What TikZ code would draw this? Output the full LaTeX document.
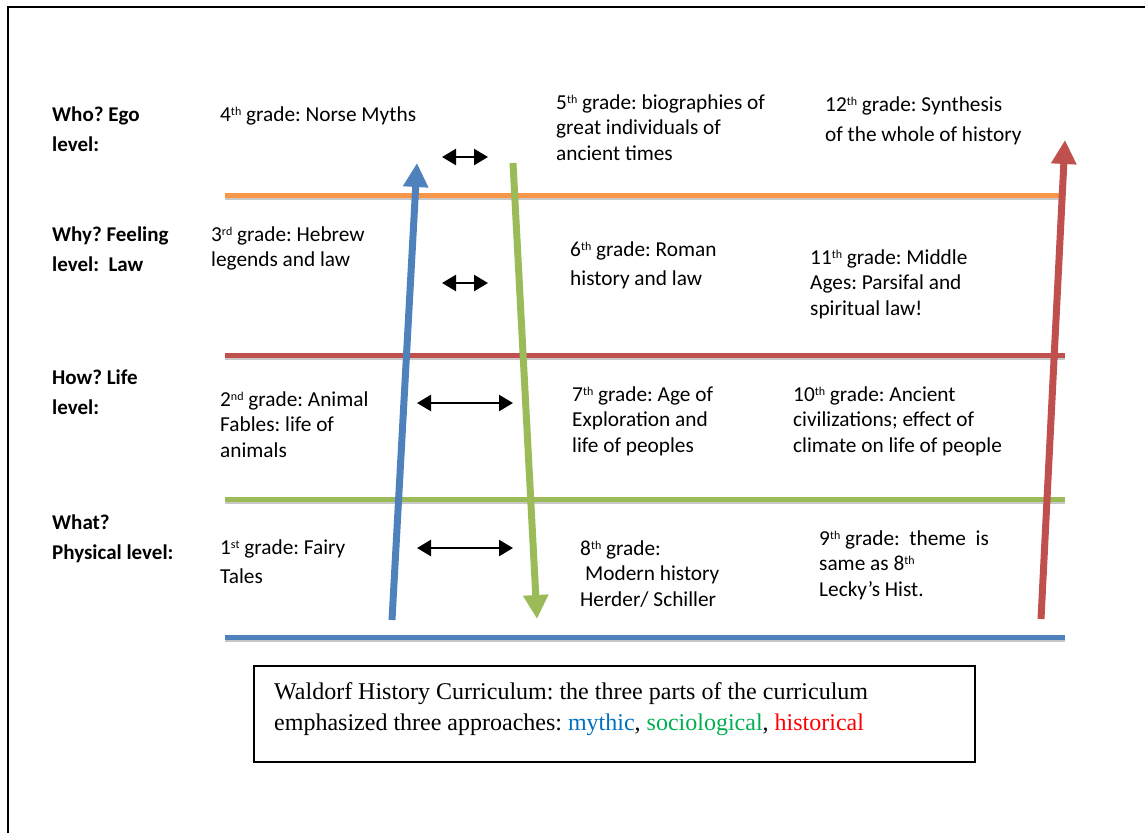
\documentclass[tikz,border=0pt]{standalone}
\usepackage{fontspec}
\setmainfont{Carlito}
\newfontfamily\captionfont{Liberation Serif}
\usetikzlibrary{arrows.meta}
\frenchspacing
\newcommand{\ordsup}[1]{\raisebox{6pt}{\fontsize{12}{12}\selectfont #1}}
\definecolor{egoorange}{HTML}{F79646}
\definecolor{lawred}{HTML}{C0504D}
\definecolor{lifegreen}{HTML}{9BBB59}
\definecolor{physblue}{HTML}{4F81BD}
\definecolor{mythblue}{HTML}{0070C0}
\definecolor{sociogreen}{HTML}{00B050}
\definecolor{histred}{HTML}{FF0000}
\tikzset{
  levelline/.style={line width=5pt, preaction={draw=black!22, line width=5pt, transform canvas={yshift=-2.5pt}}},
  approach/.style={line width=7pt, -{Triangle[width=24pt,length=24pt]}},
  compare/.style={line width=2.5pt, {Triangle[width=16pt,length=14pt]}-{Triangle[width=16pt,length=14pt]}},
  levellabel/.style={font=\fontsize{21}{30}\selectfont\bfseries, align=left, anchor=base west, inner sep=0pt},
  gradetext/.style={font=\fontsize{21.3}{25.6}\selectfont, align=left, anchor=base west, inner sep=0pt}
}
\begin{document}
\begin{tikzpicture}[x=1pt, y=-1pt]
                    \useasboundingbox (0,0) rectangle (1145,833);
                    \draw[line width=2pt] (8,833) -- (8,7) -- (1145,7);
                    % Level lines:
                    \draw[levelline, egoorange] (225,195) -- (1059,195);
                    \draw[levelline, lawred] (225,355) -- (1065,355);
                    \draw[levelline, lifegreen] (225,499) -- (1065,499);
                    \draw[levelline, physblue] (225,637) -- (1065,637);
                    % Level labels (placed at the baseline of their last line):
                    \node[levellabel] (who) at (52,151) {Who? Ego\\level:};
                    \node[levellabel] (why) at (52,271) {Why? Feeling\\level:\ \ Law};
                    \node[levellabel] (how) at (52,414) {How? Life\\level:};
                    \node[levellabel] (what) at (52,559) {What?\\Physical level:};
                    % Grades:
                    \node[gradetext] (g4) at (220,121) {4\ordsup{th} grade: Norse Myths};
                    \node[gradetext] (g3) at (211,266.6) {3\ordsup{rd} grade: Hebrew\\legends and law};
                    \node[gradetext] (g2) at (220,457.2) {2\ordsup{nd} grade: Animal\\Fables: life of\\animals};
                    \node[gradetext, font=\fontsize{21.3}{29}\selectfont] (g1) at (220,583) {1\ordsup{st} grade: Fairy\\Tales};
                    \node[gradetext] (g5) at (556,160.2) {5\ordsup{th} grade: biographies of\\great individuals of\\ancient times};
                    \node[gradetext, font=\fontsize{21.3}{29}\selectfont] (g6) at (570,285) {6\ordsup{th} grade: Roman\\history and law};
                    \node[gradetext] (g7) at (572,452.2) {7\ordsup{th} grade: Age of\\Exploration and\\life of peoples};
                    \node[gradetext] (g8) at (580,606.2) {8\ordsup{th} grade:\\\hspace{5pt}Modern history\\Herder/ Schiller};
                    \node[gradetext, font=\fontsize{21.3}{30}\selectfont] (g12) at (825,141) {12\ordsup{th} grade: Synthesis\\of the whole of history};
                    \node[gradetext] (g11) at (810,315.2) {11\ordsup{th} grade: Middle\\Ages: Parsifal and\\spiritual law!};
                    \node[gradetext] (g10) at (793,452.2) {10\ordsup{th} grade: Ancient\\civilizations; effect of\\climate on life of people};
                    \node[gradetext] (g9) at (819,596.2) {9\ordsup{th} grade:~ theme~ is\\same as 8\ordsup{th}\\Lecky’s Hist.};
                    % Approach arrows:
                    \coordinate (mythS) at (392,620);
                    \coordinate (mythE) at (417,163);
                    \coordinate (socioS) at (513,163);
                    \coordinate (socioE) at (537,619);
                    \coordinate (histS) at (1041,619);
                    \coordinate (histE) at (1065,140);
                    \draw[approach, physblue] (mythS) -- (mythE);
                    \draw[approach, lifegreen] (socioS) -- (socioE);
                    \draw[approach, lawred] (histS) -- (histE);
                    \coordinate (egoL) at (442,157);
                    \coordinate (egoR) at (488,157);
                    \coordinate (lawL) at (442,283);
                    \coordinate (lawR) at (488,283);
                    \coordinate (lifeL) at (417,403);
                    \coordinate (lifeR) at (513,403);
                    \coordinate (physL) at (417,548);
                    \coordinate (physR) at (513,548);
                    \draw[compare] (egoL) -- (egoR);
                    \draw[compare] (lawL) -- (lawR);
                    \draw[compare] (lifeL) -- (lifeR);
                    \draw[compare] (physL) -- (physR);
                    % Caption:
                    \node[draw, line width=2pt, anchor=north west, minimum width=721pt, minimum height=96pt, inner sep=0pt] (capbox) at (253,665) {};
                    \node[font=\captionfont\fontsize{24}{31}\selectfont, align=left, anchor=base west, inner sep=0pt] (captext) at (274,730) {Waldorf History Curriculum: the three parts of the curriculum\\emphasized three approaches: \textcolor{mythblue}{mythic}, \textcolor{sociogreen}{sociological}, \textcolor{histred}{historical}};
                \end{tikzpicture}
\end{document}
